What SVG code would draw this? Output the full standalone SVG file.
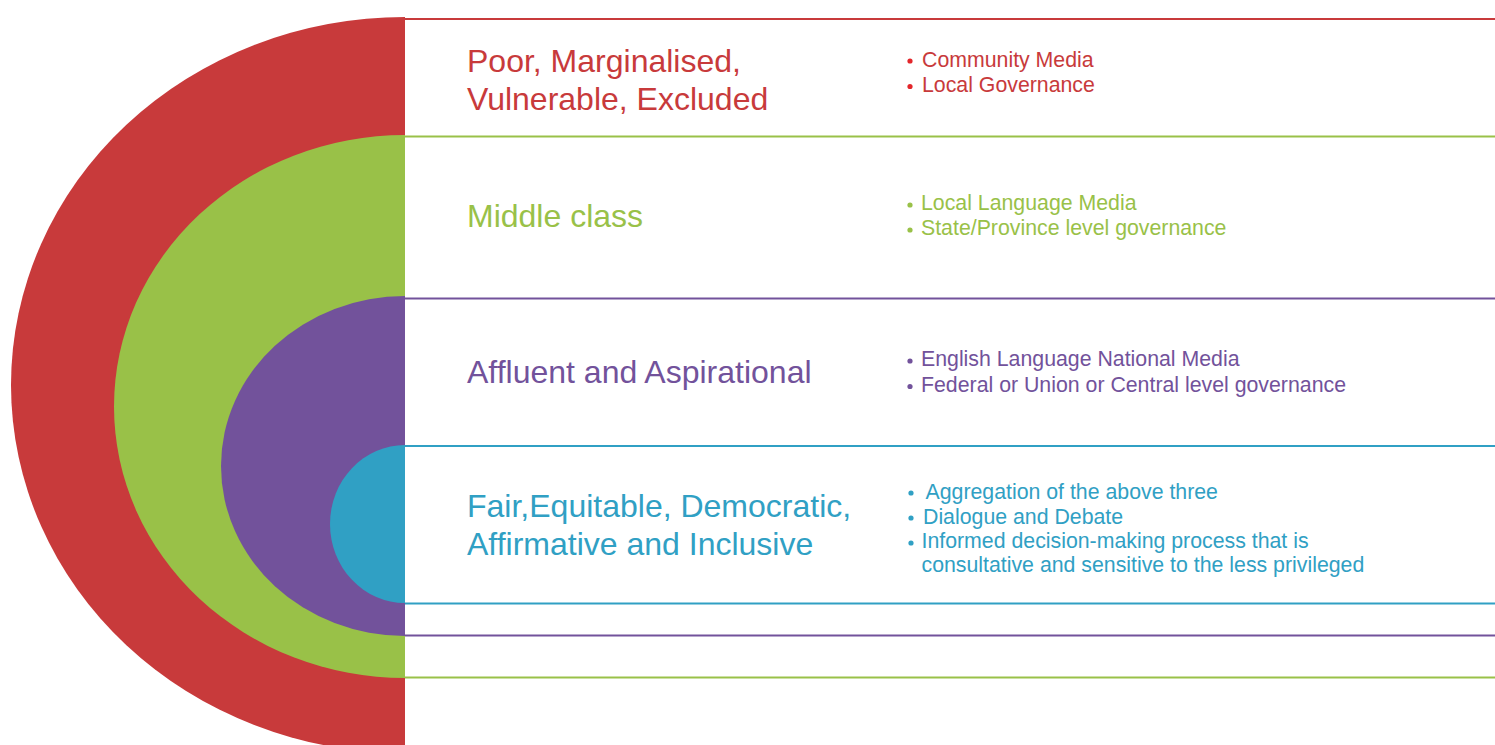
<svg xmlns="http://www.w3.org/2000/svg" width="1495" height="745" viewBox="0 0 1495 745">
<style>
.lbl{font-family:"Liberation Sans",Arial,Helvetica,sans-serif;font-size:32px}
.bul{font-family:"Liberation Sans",Arial,Helvetica,sans-serif;font-size:21.3px}
.rule{stroke-width:2;fill:none}
.red{fill:#C83A3B}.green{fill:#99C148}.purple{fill:#72529B}.blue{fill:#30A0C4}
.sred{stroke:#C83A3B}.sgreen{stroke:#99C148}.spurple{stroke:#72529B}.sblue{stroke:#30A0C4}
</style>
<rect width="1495" height="745" fill="#ffffff"/>
<g id="band-poor">
<path class="red" d="M405,17 A394,368 0 0 0 405,753 Z"/>
<text class="lbl red" x="467" y="72">Poor, Marginalised,</text>
<text class="lbl red" x="467" y="110">Vulnerable, Excluded</text>
<circle cx="910" cy="61" r="2.6" fill="#E3262B"/>
<circle cx="910" cy="86.5" r="2.6" fill="#E3262B"/>
<text class="bul red" x="922" y="67">Community Media</text>
<text class="bul red" x="922" y="92">Local Governance</text>
</g>
<g id="band-middle">
<path class="green" d="M405,135 A291,271.5 0 0 0 405,678 Z"/>
<text class="lbl green" x="467" y="227">Middle class</text>
<circle cx="910" cy="205" r="2.6" fill="#99C148"/>
<circle cx="910" cy="230" r="2.6" fill="#99C148"/>
<text class="bul green" x="921" y="210">Local Language Media</text>
<text class="bul green" x="921" y="235">State/Province level governance</text>
</g>
<g id="band-affluent">
<path class="purple" d="M405,296 A184,170 0 0 0 405,636 Z"/>
<text class="lbl purple" x="467" y="383">Affluent and Aspirational</text>
<circle cx="910" cy="361" r="2.6" fill="#72529B"/>
<circle cx="910" cy="386.5" r="2.6" fill="#72529B"/>
<text class="bul purple" x="921" y="366">English Language National Media</text>
<text class="bul purple" x="921" y="391.5">Federal or Union or Central level governance</text>
</g>
<g id="band-fair">
<path class="blue" d="M405,445 A75,79 0 0 0 405,603 Z"/>
<text class="lbl blue" x="467" y="517">Fair,Equitable, Democratic,</text>
<text class="lbl blue" x="467" y="555">Affirmative and Inclusive</text>
<circle cx="911" cy="493" r="2.6" fill="#30A0C4"/>
<circle cx="911" cy="518" r="2.6" fill="#30A0C4"/>
<circle cx="911" cy="543" r="2.6" fill="#30A0C4"/>
<text class="bul blue" x="925.5" y="499">Aggregation of the above three</text>
<text class="bul blue" x="923" y="524">Dialogue and Debate</text>
<text class="bul blue" x="921.5" y="548">Informed decision-making process that is</text>
<text class="bul blue" x="921.5" y="572">consultative and sensitive to the less privileged</text>
</g>
<g id="lines">
<line class="rule sred" x1="405" y1="19" x2="1495" y2="19"/>
<line class="rule sgreen" x1="405" y1="136.5" x2="1495" y2="136.5"/>
<line class="rule spurple" x1="405" y1="298.5" x2="1495" y2="298.5"/>
<line class="rule sblue" x1="405" y1="446" x2="1495" y2="446"/>
<line class="rule sblue" x1="405" y1="603.5" x2="1495" y2="603.5"/>
<line class="rule spurple" x1="405" y1="635.5" x2="1495" y2="635.5"/>
<line class="rule sgreen" x1="405" y1="677.5" x2="1495" y2="677.5"/>
</g>
</svg>
